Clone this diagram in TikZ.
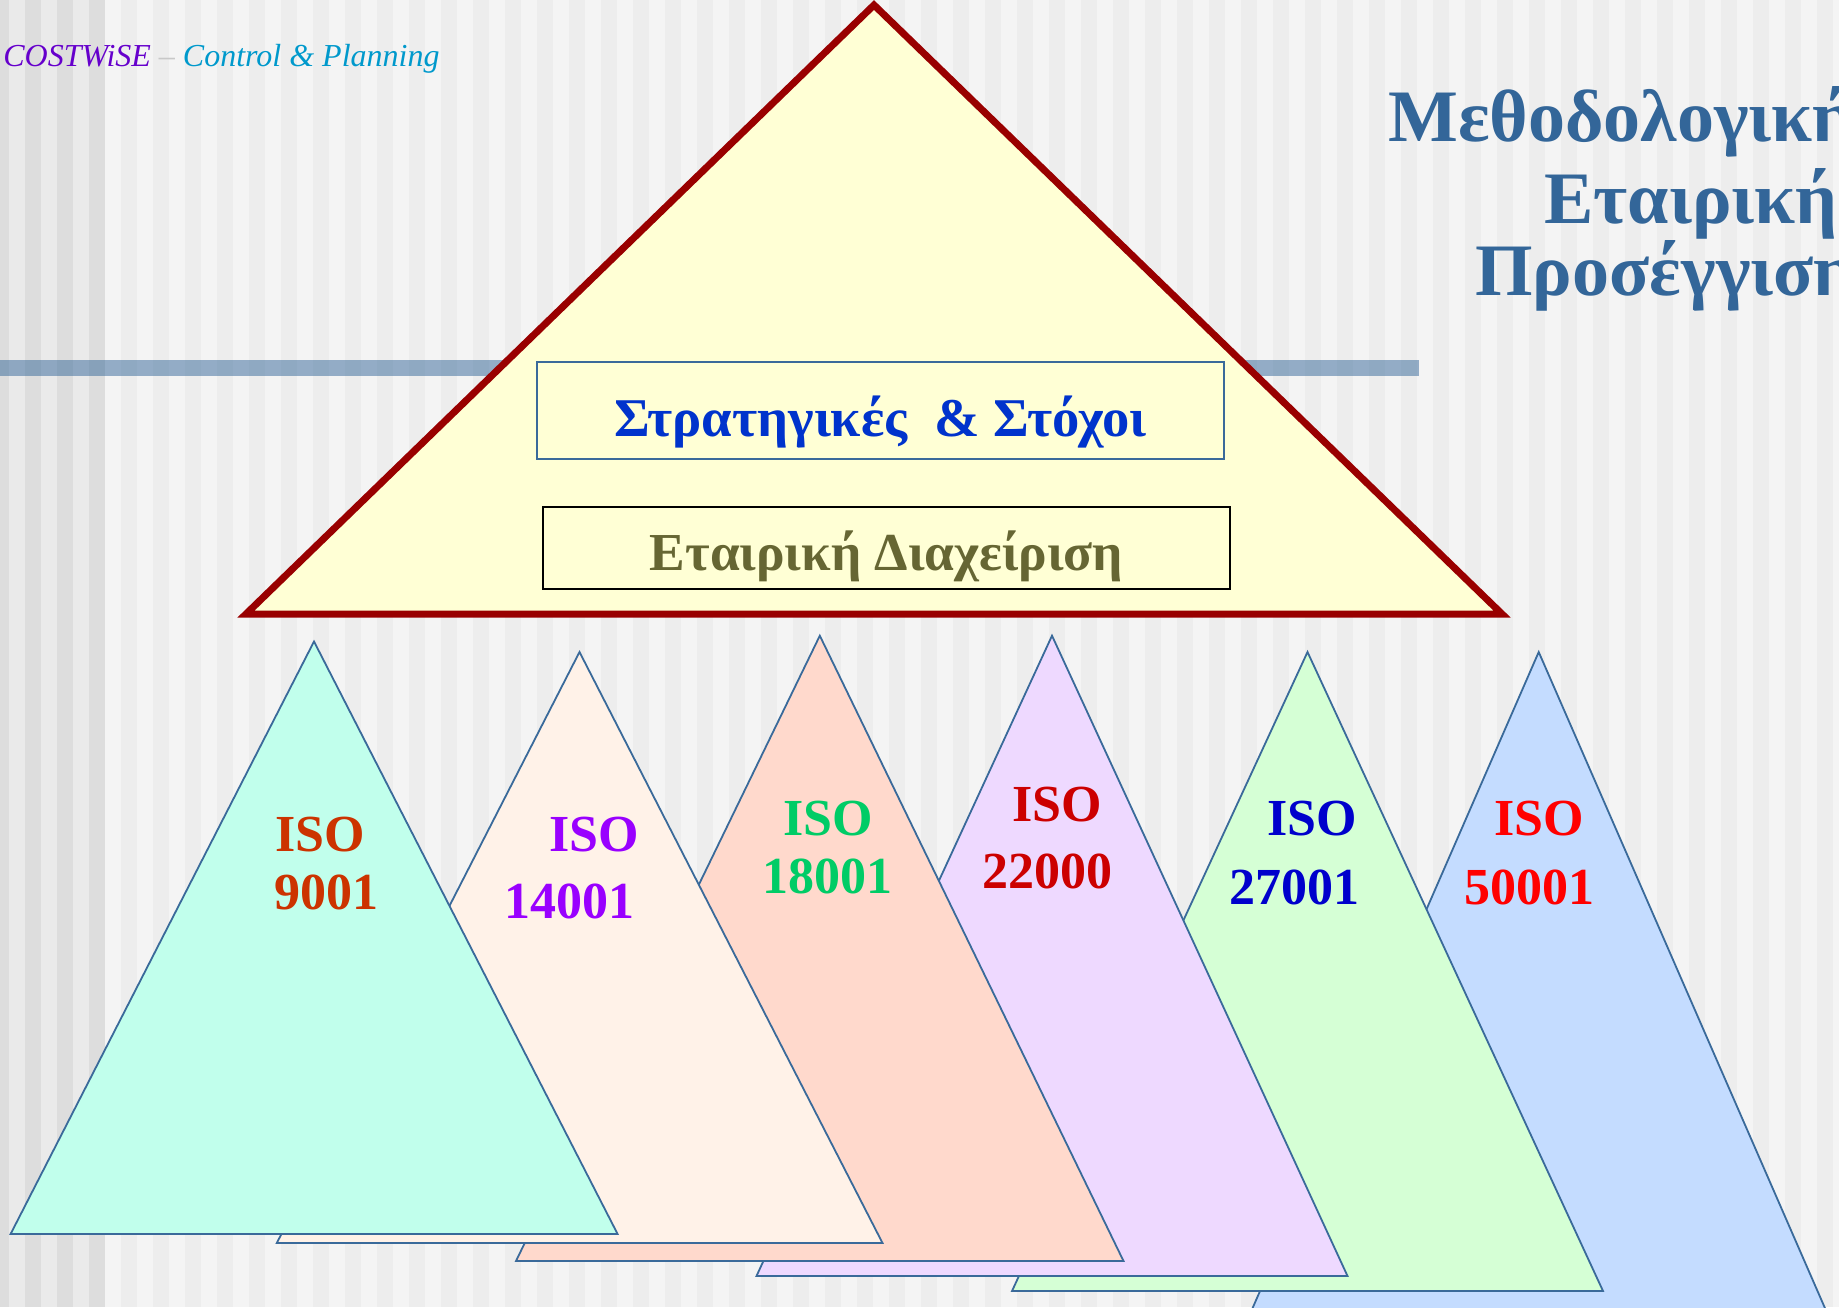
\documentclass[tikz,border=0pt]{standalone}
\usepackage{fontspec}
\setmainfont{Liberation Serif}
\definecolor{bgbase}{RGB}{244,244,244}
\definecolor{bgstripe}{RGB}{237,237,237}
\definecolor{bgleft}{RGB}{234,234,234}
\definecolor{bgleftdark}{RGB}{221,221,221}
\definecolor{bandblue}{RGB}{51,102,153}
\definecolor{titleblue}{RGB}{51,102,153}
\definecolor{darkred}{RGB}{153,0,0}
\definecolor{lightyellow}{RGB}{255,255,213}
\definecolor{triblue}{RGB}{58,106,154}
\definecolor{stratblue}{RGB}{0,51,204}
\definecolor{olive}{RGB}{102,102,51}
\definecolor{hdrpurple}{RGB}{102,0,204}
\definecolor{hdrcyan}{RGB}{0,153,204}
\definecolor{dashgray}{RGB}{200,200,200}
\definecolor{fa}{RGB}{193,255,236}
\definecolor{fb}{RGB}{255,242,232}
\definecolor{fc}{RGB}{255,217,204}
\definecolor{fd}{RGB}{238,217,255}
\definecolor{fe}{RGB}{213,255,213}
\definecolor{ff}{RGB}{196,220,255}
\definecolor{ca}{RGB}{204,51,0}
\definecolor{cb}{RGB}{153,0,255}
\definecolor{cc}{RGB}{0,204,102}
\definecolor{cd}{RGB}{204,0,0}
\definecolor{ce}{RGB}{0,0,204}
\definecolor{cf}{RGB}{255,0,0}
\begin{document}
\begin{tikzpicture}[x=0.5pt,y=-0.5pt,
  tri/.style={draw=triblue, line width=0.9pt, line join=miter},
  isolab/.style={font=\fontsize{26}{30}\selectfont\bfseries, inner sep=0pt, anchor=base},
  titlelab/.style={font=\fontsize{37}{40}\selectfont\bfseries, text=titleblue, inner sep=0pt, anchor=base west},
  boxlab/.style={rectangle, inner sep=0pt, minimum width=343.5pt, text depth=0pt}]
\useasboundingbox (0,0) rectangle (1839,1307);
\clip (0,0) rectangle (1839,1307);
% background
\fill[bgbase] (0,0) rectangle (1839,1307);
\fill[bgleft] (0,0) rectangle (105,1307);
\foreach \k in {0,...,3} {\fill[bgleftdark] ({-7+32*\k},0) rectangle ({9+32*\k},1307);}
\foreach \k in {0,...,54} {\fill[bgstripe] ({121+32*\k},0) rectangle ({137+32*\k},1307);}
% band
\fill[bandblue, opacity=0.5] (0,360) rectangle (1419,376);
% header
\node[anchor=base west, inner sep=0pt, font=\fontsize{16}{18}\selectfont\itshape] (hdr) at (3,66)
  {\textcolor{hdrpurple}{COSTWiSE} \textcolor{dashgray}{–} \textcolor{hdrcyan}{Control \& Planning}};
% title
\node[titlelab] (t1) at (1388,141) {Μεθοδολογική};
\node[titlelab] (t2) at (1544,223) {Εταιρική};
\node[titlelab] (t3) at (1475,295) {Προσέγγιση};
% big triangle
\draw[line width=3.5pt, draw=darkred, fill=lightyellow, line join=miter] (874,5) -- (246,614) -- (1502,614) -- cycle;
\node[boxlab, draw=triblue, line width=0.8pt, minimum height=48.5pt, text height=26.2pt,
  font=\fontsize{27.3}{30}\selectfont\bfseries, text=stratblue] (box1) at (880.5,410.5) {Στρατηγικές\ \ \& Στόχοι};
\node[boxlab, draw=black, line width=1pt, minimum height=41pt, text height=22pt,
  font=\fontsize{26.7}{30}\selectfont\bfseries, text=olive] (box2) at (886.5,548) {Εταιρική Διαχείριση};
% small triangles, back to front
\filldraw[tri, fill=ff] (1538.7,652) -- (1243,1330) -- (1834.5,1330) -- cycle;
\node[isolab, text=cf] (l6a) at (1539,835) {ISO};
\node[isolab, text=cf] (l6b) at (1529,904) {50001};
\filldraw[tri, fill=fe] (1307.5,652) -- (1012,1291) -- (1603,1291) -- cycle;
\node[isolab, text=ce] (l5a) at (1312,835) {ISO};
\node[isolab, text=ce] (l5b) at (1294.5,904) {27001};
\filldraw[tri, fill=fd] (1052,635.7) -- (756.5,1276) -- (1347.5,1276) -- cycle;
\node[isolab, text=cd] (l4a) at (1057,821) {ISO};
\node[isolab, text=cd] (l4b) at (1047,888) {22000};
\filldraw[tri, fill=fc] (819.8,635.7) -- (516,1261) -- (1123.5,1261) -- cycle;
\node[isolab, text=cc] (l3a) at (828,835) {ISO};
\node[isolab, text=cc] (l3b) at (827.5,893) {18001};
\filldraw[tri, fill=fb] (579.5,652) -- (276.8,1243) -- (882.5,1243) -- cycle;
\node[isolab, text=cb] (l2a) at (594,851) {ISO};
\node[isolab, text=cb] (l2b) at (569.5,918) {14001};
\filldraw[tri, fill=fa] (314,641.5) -- (10.6,1234) -- (617.6,1234) -- cycle;
\node[isolab, text=ca] (l1a) at (320.5,851) {ISO};
\node[isolab, text=ca] (l1b) at (326.5,909) {9001};
\end{tikzpicture}
\end{document}
